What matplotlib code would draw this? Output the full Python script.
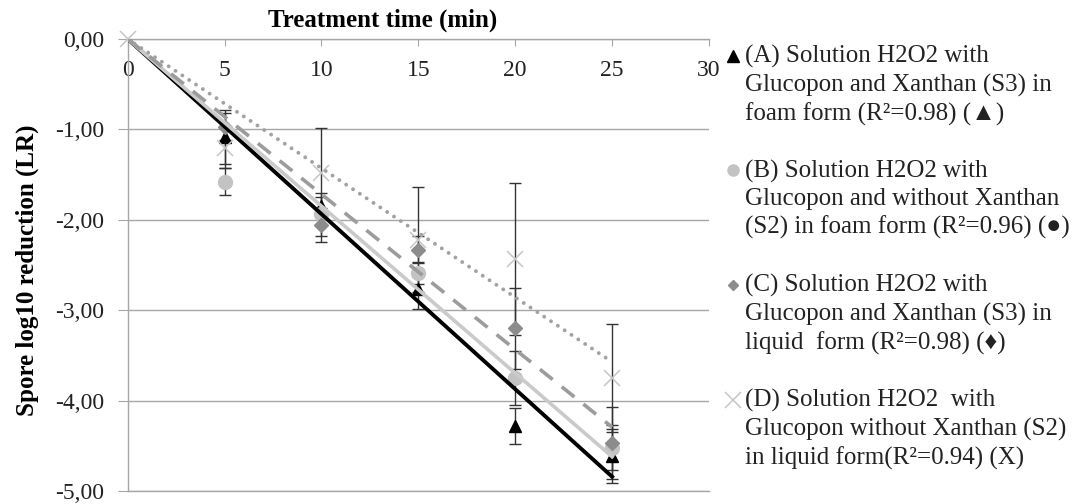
import numpy as np
import matplotlib
matplotlib.use("Agg")
import matplotlib.pyplot as plt
from matplotlib.lines import Line2D

plt.rcParams['font.family'] = ['Liberation Serif', 'DejaVu Serif', 'DejaVu Sans']

# treatment time (min) and mean log reduction per solution
time = [0, 5, 10, 15, 20, 25]
lr_a = [0, -1.08, -1.85, -2.77, -4.28, -4.61]
lr_b = [0, -1.58, -1.94, -2.59, -3.75, -4.52]
lr_c = [0, -0.97, -2.06, -2.33, -3.20, -4.47]
lr_d = [0, -1.21, -1.48, -2.22, -2.43, -3.75]
sd_a = [0, 0.30, 0.10, 0.22, 0.20, 0.30]
sd_b = [0, 0.15, 0.24, 0.12, 0.30, 0.25]
sd_c = [0, 0.15, 0.19, 0.15, 0.45, 0.40]
sd_d = [0, 0.22, 0.49, 0.58, 0.84, 0.60]

labels = [
    "(A) Solution H2O2 with\nGlucopon and Xanthan (S3) in\nfoam form (R\u00b2=0.98) (\u25b2)",
    "(B) Solution H2O2 with\nGlucopon and without Xanthan\n(S2) in foam form (R\u00b2=0.96) (\u25cf)",
    "(C) Solution H2O2 with\nGlucopon and Xanthan (S3) in\nliquid  form (R\u00b2=0.98) (\u2666)",
    "(D) Solution H2O2  with\nGlucopon without Xanthan (S2)\nin liquid form(R\u00b2=0.94) (X)",
]

W, H = 1073, 504
fig = plt.figure(figsize=(W / 100, H / 100), dpi=100)
ax = fig.add_axes([127.7 / W, 1 - 491 / H, (709 - 127.7) / W, (491 - 39) / H])

grid_col = '#a6a6a6'
err_col = '#333333'
txt_col = '#222222'

series = [
    (lr_a, sd_a, dict(marker='^', ms=9, color='black', mec='black'),
     dict(color='black', lw=2.8, ls='-')),
    (lr_b, sd_b, dict(marker='o', ms=10, color='#c3c3c3', mec='#c3c3c3'),
     dict(color='#cacaca', lw=2.6, ls='-')),
    (lr_c, sd_c, dict(marker='D', ms=7, color='#8c8c8c', mec='#8c8c8c'),
     dict(color='#9c9c9c', lw=2.6, ls=(0, (4.5, 3.2)))),
    (lr_d, sd_d, dict(marker='x', ms=12, mew=1.1, color='#c6c6c6'),
     dict(color='#a2a2a2', lw=2.8, ls=(0, (0.01, 2.1)), dash_capstyle='round')),
]

t = np.array(time, dtype=float)
for i, (y, sd, mk, ln) in enumerate(series):
    y = np.array(y)
    start = 0 if i == 3 else 1
    ax.errorbar(t[1:], y[1:], yerr=sd[1:], fmt='none', ecolor=err_col,
                elinewidth=1, capsize=4, capthick=1, zorder=3)
    ax.plot(t[start:], y[start:], ls='none', zorder=4, clip_on=False, **mk)

# linear trendlines forced through the origin
for y, sd, mk, ln in series:
    y = np.array(y)
    slope = np.sum(t[1:] * y[1:]) / np.sum(t[1:] ** 2)
    xs = np.array([0, 25])
    ax.plot(xs, slope * xs, zorder=5, **ln)

ax.set_xlim(0, 30)
ax.set_ylim(-5, 0)
ax.set_xticks(range(0, 31, 5))
yt = np.arange(-5, 0.01, 1)
ax.set_yticks(yt)
ax.set_yticklabels([f"{v:.2f}".replace('.', ',').replace('-0,00', '0,00') for v in yt])
ax.xaxis.tick_top()
ax.tick_params(axis='x', direction='in', length=5, color=grid_col, pad=-30,
               labelsize=17, labelcolor=txt_col)
ax.tick_params(axis='y', direction='out', length=7, color=grid_col, pad=10,
               labelsize=17, labelcolor=txt_col)
ax.yaxis.grid(True, color=grid_col, lw=1, zorder=0)
ax.set_axisbelow(True)
ax.spines['right'].set_visible(False)
for s in ['top', 'left', 'bottom']:
    ax.spines[s].set_color(grid_col)
    ax.spines[s].set_linewidth(1)

ax.set_xlabel("Treatment time (min)", fontsize=18, fontweight='bold', color='black')
ax.xaxis.set_label_position('top')
ax.xaxis.set_label_coords(0.439, 1.027)
ax.set_ylabel("Spore log10 reduction (LR)", fontsize=18, fontweight='bold', color='black')
ax.yaxis.set_label_coords(-0.153, 0.489)

# legend on the right
legend_mk = [
    dict(marker='^', ms=9, color='black', mec='black'),
    dict(marker='o', ms=8, color='#c3c3c3', mec='#c3c3c3'),
    dict(marker='D', ms=5, color='#8c8c8c', mec='#8c8c8c'),
    dict(marker='x', ms=12, mew=1.1, color='#c6c6c6'),
]
first_line = [56, 170, 285, 400]
for y0, lab, mk in zip(first_line, labels, legend_mk):
    fig.add_artist(Line2D([733 / W], [1 - y0 / H], transform=fig.transFigure,
                          ls='none', **mk))
    fig.text(745 / W, 1 - (y0 + 29.5) / H, lab, fontsize=18, va='center',
             ha='left', linespacing=1.3, color=txt_col)

fig.savefig("out.png", dpi=100)
